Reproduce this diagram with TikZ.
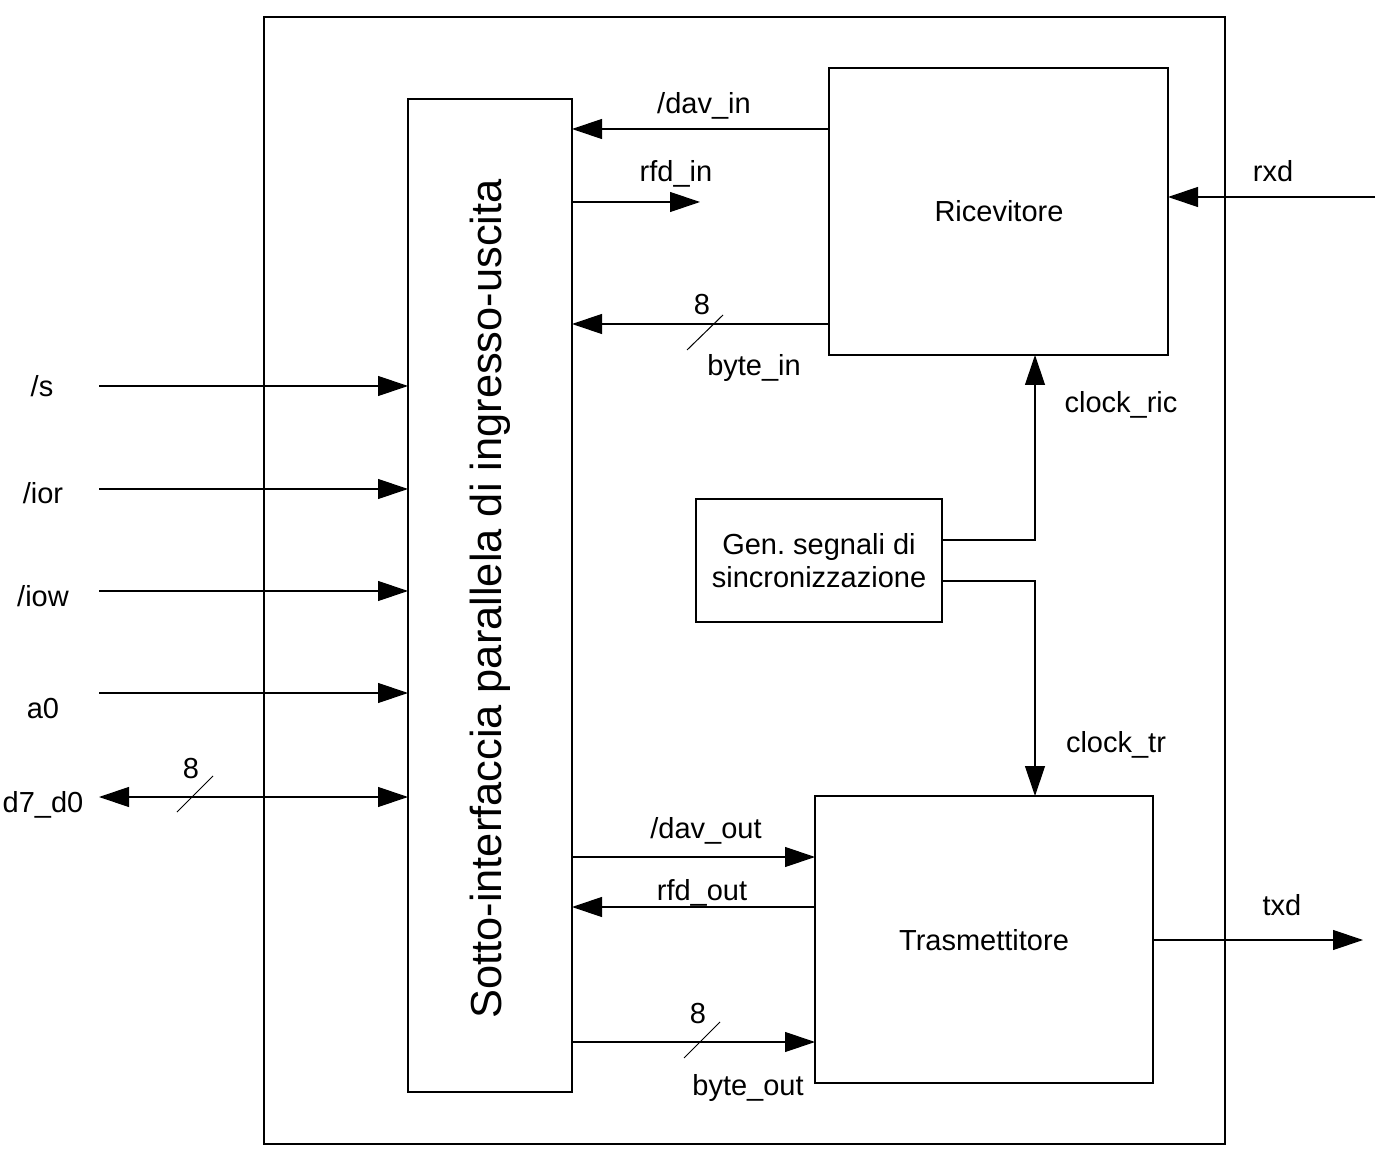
\documentclass[tikz,border=0pt]{standalone}
\usepackage{fontspec}
\setmainfont{Liberation Sans}
\usetikzlibrary{arrows.meta}
\begin{document}
\begin{tikzpicture}[x=0.5pt,y=-0.5pt,
  box/.style={draw=black,line width=0.6pt,inner sep=0pt,outer sep=0pt},
  lbl/.style={font=\fontsize{14.5}{17}\selectfont,inner sep=0pt,anchor=center},
  wire/.style={line width=0.6pt,draw=black},
  arr/.style={wire,-{Triangle[length=15pt,width=10pt]}},
  darr/.style={wire,{Triangle[length=15pt,width=10pt]}-{Triangle[length=15pt,width=10pt]}},
  bus/.style={line width=0.5pt,draw=black}]
\useasboundingbox (0,0) rectangle (1393,1160);
% boxes
\node[box,minimum width=480.5pt,minimum height=563.5pt] (outer) at (744.5,580.5) {};
\node[box,minimum width=82pt,minimum height=496.5pt] (sub) at (490,595.5) {};
\node[font=\fontsize{21.7}{25}\selectfont,rotate=90,inner sep=0pt] (subt) at (490,599) {Sotto-interfaccia parallela di ingresso-uscita};
\node[box,minimum width=169.5pt,minimum height=143.5pt] (ric) at (998.5,211.5) {};
\node[lbl] (rict) at (999,211) {Ricevitore};
\node[box,minimum width=169pt,minimum height=143.5pt] (tra) at (984,939.5) {};
\node[lbl] (trat) at (984,940) {Trasmettitore};
\node[box,minimum width=123pt,minimum height=61.5pt] (gen) at (819,560.5) {};
\node[lbl,align=center,font=\fontsize{14.5}{16.5}\selectfont] (gent) at (819,561) {Gen.\ segnali di\\sincronizzazione};
% left inputs
\coordinate (is) at (99,386);
\coordinate (iior) at (99,489);
\coordinate (iiow) at (99,591);
\coordinate (ia0) at (99,693);
\coordinate (id) at (99,797);
\draw[arr] (is) -- (sub.west |- is);
\draw[arr] (iior) -- (sub.west |- iior);
\draw[arr] (iiow) -- (sub.west |- iiow);
\draw[arr] (ia0) -- (sub.west |- ia0);
\draw[darr] (id) -- (sub.west |- id);
\node[lbl] (ls) at (42,386) {/s};
\node[lbl] (lior) at (43,493) {/ior};
\node[lbl] (liow) at (43,596) {/iow};
\node[lbl] (la0) at (43,709) {a0};
\node[lbl] (ld) at (43,805) {d7\_d0};
\node[lbl] (l8a) at (191,769) {8};
\draw[bus] (177,812) -- (213,776);
% receiver side
\coordinate (cdav) at (0,129);
\draw[arr] (ric.west |- cdav) -- (sub.east |- cdav);
\node[lbl] (ldav) at (704,106) {/dav\_in};
\coordinate (rfdend) at (700,202);
\draw[arr] (sub.east |- rfdend) -- (rfdend);
\node[lbl] (lrfd) at (676,174) {rfd\_in};
\coordinate (cbin) at (0,324);
\draw[arr] (ric.west |- cbin) -- (sub.east |- cbin);
\node[lbl] (l8b) at (702,305) {8};
\draw[bus] (687,350) -- (723,315);
\node[lbl] (lbin) at (754,368) {byte\_in};
\coordinate (rxds) at (1375,197);
\draw[arr] (rxds) -- (ric.east |- rxds);
\node[lbl] (lrxd) at (1273,171) {rxd};
% clocks
\coordinate (cric) at (942,540);
\coordinate (ctr) at (942,581);
\draw[arr] (cric) -- (1035,540) -- (1035,355);
\draw[arr] (ctr) -- (1035,581) -- (1035,796);
\node[lbl] (lcr) at (1121,405) {clock\_ric};
\node[lbl] (lct) at (1116,745) {clock\_tr};
% transmitter side
\coordinate (cdo) at (0,857);
\draw[arr] (sub.east |- cdo) -- (tra.west |- cdo);
\node[lbl] (ldo) at (706,831) {/dav\_out};
\coordinate (cro) at (0,907);
\draw[arr] (tra.west |- cro) -- (sub.east |- cro);
\node[lbl] (lro) at (702,893) {rfd\_out};
\coordinate (cbo) at (0,1042);
\draw[arr] (sub.east |- cbo) -- (tra.west |- cbo);
\node[lbl] (l8c) at (698,1014) {8};
\draw[bus] (684,1058) -- (720,1022);
\node[lbl] (lbo) at (748,1088) {byte\_out};
\coordinate (txde) at (1363,940);
\draw[arr] (tra.east |- txde) -- (txde);
\node[lbl] (ltxd) at (1282,905) {txd};
\end{tikzpicture}
\end{document}
